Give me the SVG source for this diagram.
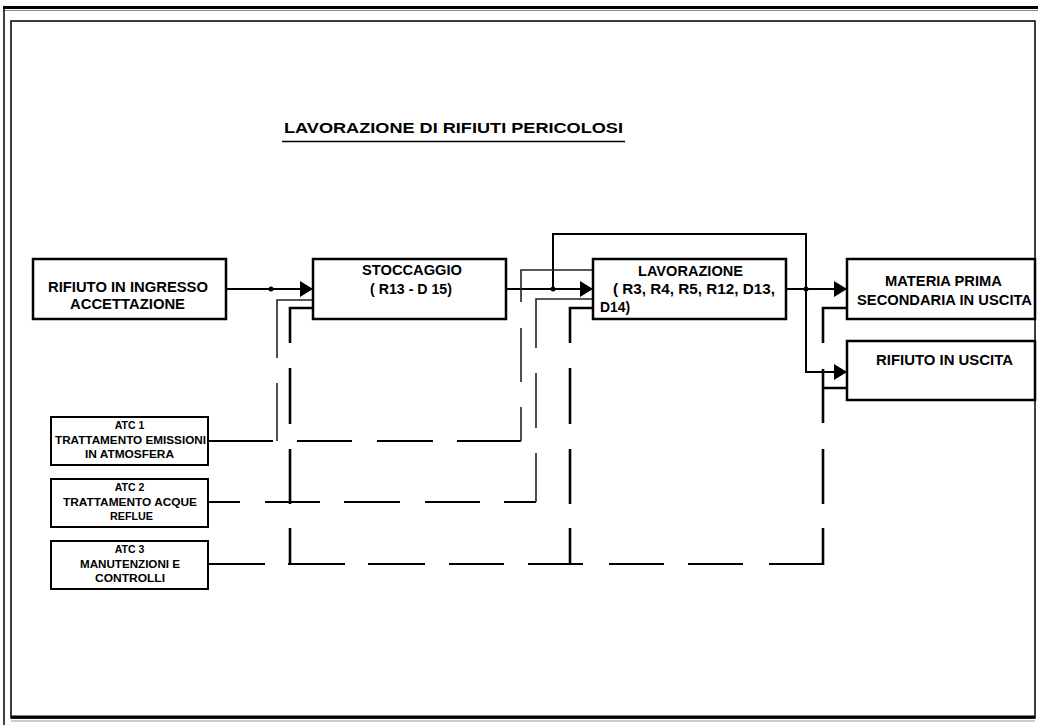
<svg xmlns="http://www.w3.org/2000/svg" width="1038" height="725" viewBox="0 0 1038 725">
<style>
  .box{fill:#fff;stroke:#000;stroke-width:2.5}
  .sbox{fill:#fff;stroke:#000;stroke-width:2}
  .t{font-family:"Liberation Sans",Arial,sans-serif;font-weight:bold;fill:#000}
  .big{font-size:14px}
  .sm{font-size:10.5px}
  .flow{fill:none;stroke:#000;stroke-width:2}
  .c1{fill:none;stroke:#222;stroke-width:1.6}
  .c2{fill:none;stroke:#000;stroke-width:2.2}
  .c3{fill:none;stroke:#000;stroke-width:2.6}
</style>
<defs>
  <marker id="arr" viewBox="0 0 13 16" refX="13" refY="8" markerWidth="13" markerHeight="16" markerUnits="userSpaceOnUse" orient="auto">
    <path d="M0 0L13 8L0 16Z" fill="#000"/>
  </marker>
</defs>
<rect width="1038" height="725" fill="#fff"/>
<g id="frame">
  <line x1="3" y1="7.5" x2="1038" y2="7.5" stroke="#000" stroke-width="3"/>
  <line x1="3" y1="10.5" x2="1038" y2="10.5" stroke="#888" stroke-width="1"/>
  <line x1="4" y1="7" x2="4" y2="725" stroke="#000" stroke-width="1.5"/>
  <rect x="11" y="21" width="1024" height="697" fill="none" stroke="#000" stroke-width="1.5"/>
  <line x1="11" y1="717" x2="1035" y2="717" stroke="#000" stroke-width="3"/>
  <line x1="11" y1="721" x2="1035" y2="721" stroke="#999" stroke-width="1"/>
</g>
<g id="title">
  <text class="t" x="284" y="133" font-size="14.5" textLength="339" lengthAdjust="spacingAndGlyphs">LAVORAZIONE  DI RIFIUTI PERICOLOSI</text>
  <line x1="282" y1="141.5" x2="625" y2="141.5" stroke="#000" stroke-width="1.6"/>
</g>
<g id="connectors">
  <path class="flow" d="M226 289H313" marker-end="url(#arr)"/>
  <path class="flow" d="M506 289H593" marker-end="url(#arr)"/>
  <path class="flow" d="M553 289V234H806V372H847" marker-end="url(#arr)"/>
  <path class="flow" d="M786 289H847" marker-end="url(#arr)"/>
  <circle cx="271" cy="289" r="2.5" fill="#000"/>
  <circle cx="553" cy="289" r="2.5" fill="#000"/>
  <circle cx="806" cy="289" r="2.5" fill="#000"/>
  <path class="c2" d="M208 441H273M297 441H352M377 441H433M457 441H521"/>
  <path class="c1" d="M521 441V407M521 382V328M521 302V270H593"/>
  <path class="c1" d="M277 441V383M277 358V300H313"/>
  <path class="c2" d="M208 502H240M265 502H320M344 502H400M425 502H480M504 502H536"/>
  <path class="c1" d="M536 502V453M536 428V373M536 348V299H593"/>
  <path class="c2" d="M208 564H265M288 564H345M368 564H425M449 564H504M528 564H583M609 564H664M688 564H743M769 564H824"/>
  <path class="c3" d="M290 565V528M290 504V449M290 424V368M290 343V308H313"/>
  <path class="c3" d="M570 565V528M570 504V449M570 424V368M570 343V308H593"/>
  <path class="c3" d="M823 565V528M823 504V449M823 423V369M823 343V308H847M823 388H847"/>
</g>
<g id="n-ingresso">
  <rect class="box" x="33" y="259" width="193" height="60"/>
  <text class="t big" x="48" y="292" textLength="160" lengthAdjust="spacingAndGlyphs">RIFIUTO IN INGRESSO</text>
  <text class="t big" x="70" y="309" textLength="115" lengthAdjust="spacingAndGlyphs">ACCETTAZIONE</text>
</g>
<g id="n-stoccaggio">
  <rect class="box" x="313" y="259" width="193" height="60"/>
  <text class="t big" x="362" y="275" textLength="100" lengthAdjust="spacingAndGlyphs">STOCCAGGIO</text>
  <text class="t big" x="370" y="294" textLength="82" lengthAdjust="spacingAndGlyphs">( R13 - D 15)</text>
</g>
<g id="n-lavorazione">
  <rect class="box" x="593" y="259" width="193" height="60"/>
  <text class="t big" x="638" y="276" textLength="105" lengthAdjust="spacingAndGlyphs">LAVORAZIONE</text>
  <text class="t big" x="613" y="294" textLength="162" lengthAdjust="spacingAndGlyphs">( R3, R4, R5, R12, D13,</text>
  <text class="t big" x="600" y="312" textLength="30" lengthAdjust="spacingAndGlyphs">D14)</text>
</g>
<g id="n-materia">
  <rect class="box" x="847" y="259" width="188" height="60"/>
  <text class="t big" x="885" y="286" textLength="117" lengthAdjust="spacingAndGlyphs">MATERIA PRIMA</text>
  <text class="t big" x="857" y="305" textLength="175" lengthAdjust="spacingAndGlyphs">SECONDARIA IN USCITA</text>
</g>
<g id="n-rifiuto-uscita">
  <rect class="box" x="847" y="341" width="188" height="59"/>
  <text class="t big" x="876" y="365" textLength="137" lengthAdjust="spacingAndGlyphs">RIFIUTO IN USCITA</text>
</g>
<g id="n-atc1">
  <rect class="sbox" x="51" y="417" width="157" height="48"/>
  <text class="t sm" x="129.5" y="429" text-anchor="middle">ATC 1</text>
  <text class="t sm" x="55" y="444" textLength="151" lengthAdjust="spacingAndGlyphs">TRATTAMENTO EMISSIONI</text>
  <text class="t sm" x="85" y="458" textLength="89" lengthAdjust="spacingAndGlyphs">IN ATMOSFERA</text>
</g>
<g id="n-atc2">
  <rect class="sbox" x="51" y="479" width="157" height="48"/>
  <text class="t sm" x="129.5" y="491" text-anchor="middle">ATC 2</text>
  <text class="t sm" x="63" y="506" textLength="134" lengthAdjust="spacingAndGlyphs">TRATTAMENTO ACQUE</text>
  <text class="t sm" x="110" y="520" textLength="43" lengthAdjust="spacingAndGlyphs">REFLUE</text>
</g>
<g id="n-atc3">
  <rect class="sbox" x="51" y="541" width="157" height="48"/>
  <text class="t sm" x="129.5" y="553" text-anchor="middle">ATC 3</text>
  <text class="t sm" x="80" y="568" textLength="100" lengthAdjust="spacingAndGlyphs">MANUTENZIONI E</text>
  <text class="t sm" x="95" y="582" textLength="70" lengthAdjust="spacingAndGlyphs">CONTROLLI</text>
</g>
</svg>
